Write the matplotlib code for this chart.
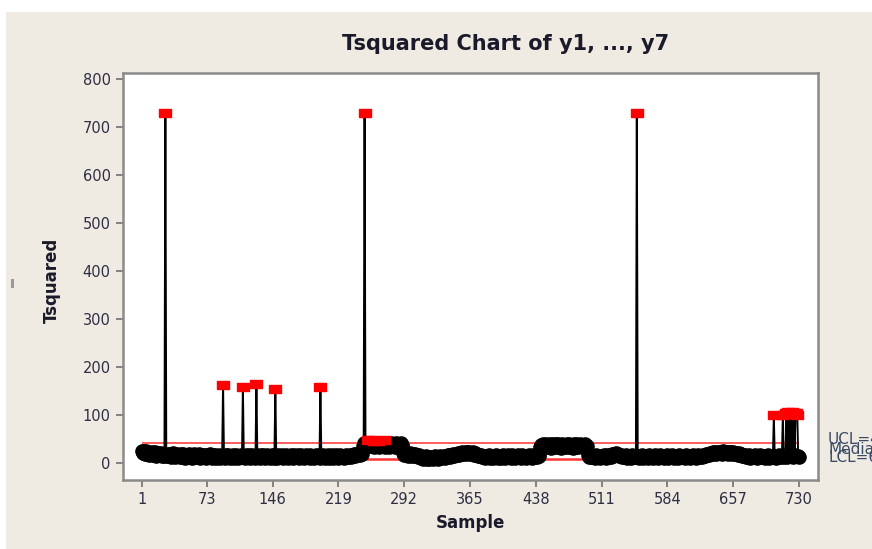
# Tsquared chart (Minitab style) of y1..y7
import numpy as np
import matplotlib.pyplot as plt
from matplotlib.patches import Rectangle

# T-squared values, one row = 10 samples (1..730)
tsq = [
    24, 20, 26, 18, 22, 25, 19, 23, 17, 21,
    19, 23, 16, 20, 18, 22, 15, 19, 21, 17,
    16, 20, 14, 18, 15, 19, 730, 17, 14, 18,
    15, 19, 13, 17, 20, 14, 18, 12, 16, 19,
    14, 17, 12, 18, 15, 13, 19, 16, 11, 17,
    15, 12, 18, 14, 16, 11, 17, 13, 19, 15,
    12, 16, 14, 18, 11, 15, 13, 17, 12, 16,
    14, 11, 17, 13, 15, 12, 18, 14, 10, 16,
    13, 17, 11, 15, 14, 12, 16, 10, 14, 13,
    163, 15, 11, 17, 13, 12, 16, 14, 10, 15,
    13, 17, 11, 14, 16, 12, 15, 10, 14, 13,
    16, 12, 158, 14, 11, 17, 13, 15, 12, 16,
    11, 14, 17, 12, 15, 10, 13, 165, 16, 12,
    14, 11, 16, 13, 17, 12, 10, 15, 13, 16,
    12, 15, 11, 14, 17, 13, 10, 16, 155, 14,
    11, 16, 13, 15, 12, 17, 14, 10, 15, 12,
    16, 13, 11, 15, 14, 17, 12, 14, 10, 16,
    13, 15, 12, 17, 11, 14, 16, 12, 15, 13,
    10, 14, 17, 12, 15, 13, 11, 16, 14, 12,
    15, 11, 14, 17, 13, 12, 16, 10, 158, 14,
    12, 16, 13, 11, 15, 14, 17, 12, 10, 15,
    13, 16, 11, 14, 12, 17, 13, 15, 11, 14,
    16, 12, 15, 13, 10, 14, 17, 12, 15, 13,
    14, 17, 13, 16, 15, 18, 14, 17, 19, 16,
    18, 21, 17, 20, 19, 36, 41, 730, 38, 34,
    40, 48, 35, 39, 42, 47, 37, 33, 46, 40,
    36, 41, 45, 34, 38, 42, 35, 40, 47, 37,
    33, 39, 36, 41, 34, 38, 42, 35, 40, 36,
    39, 34, 41, 37, 33, 40, 36, 42, 35, 38,
    20, 17, 21, 16, 19, 15, 18, 20, 14, 17,
    16, 19, 14, 18, 15, 17, 13, 16, 12, 14,
    11, 13, 9, 12, 10, 14, 8, 11, 13, 9,
    12, 10, 13, 9, 11, 14, 10, 12, 9, 13,
    11, 14, 10, 13, 12, 15, 11, 14, 13, 16,
    14, 17, 13, 16, 15, 18, 14, 17, 19, 16,
    18, 21, 17, 20, 19, 22, 18, 21, 20, 23,
    19, 22, 20, 23, 18, 21, 19, 22, 17, 20,
    18, 16, 19, 15, 17, 14, 16, 13, 15, 12,
    14, 11, 15, 13, 12, 16, 10, 14, 12, 15,
    11, 14, 13, 16, 12, 10, 15, 13, 11, 14,
    16, 12, 14, 11, 15, 13, 17, 12, 14, 10,
    13, 16, 12, 15, 11, 14, 13, 17, 12, 15,
    14, 11, 16, 13, 12, 15, 10, 14, 13, 16,
    12, 15, 13, 11, 16, 14, 12, 15, 13, 17,
    15, 18, 33, 38, 35, 40, 34, 37, 39, 36,
    33, 38, 35, 40, 32, 37, 39, 34, 36, 40,
    37, 33, 39, 35, 38, 32, 40, 36, 34, 38,
    35, 39, 33, 37, 40, 34, 38, 36, 32, 39,
    36, 40, 34, 38, 33, 37, 39, 35, 38, 34,
    37, 33, 39, 35, 36, 16, 13, 15, 12, 14,
    12, 15, 13, 11, 16, 14, 12, 15, 10, 13,
    15, 12, 14, 17, 13, 11, 16, 14, 12, 15,
    13, 16, 18, 15, 19, 17, 20, 16, 18, 15,
    17, 14, 16, 13, 15, 12, 14, 16, 11, 13,
    15, 12, 14, 11, 16, 13, 12, 15, 14, 730,
    13, 11, 15, 12, 14, 16, 10, 13, 15, 12,
    14, 11, 16, 13, 12, 15, 14, 10, 13, 16,
    12, 15, 13, 11, 14, 16, 12, 15, 13, 10,
    14, 12, 16, 13, 11, 15, 14, 12, 16, 13,
    11, 14, 13, 15, 12, 10, 16, 13, 14, 12,
    15, 13, 11, 14, 16, 12, 13, 15, 11, 14,
    13, 16, 12, 14, 15, 11, 13, 16, 14, 12,
    15, 13, 16, 14, 17, 15, 18, 16, 19, 17,
    20, 18, 21, 19, 22, 20, 23, 19, 21, 22,
    20, 23, 21, 19, 22, 24, 20, 22, 21, 23,
    19, 22, 20, 23, 21, 19, 22, 20, 18, 21,
    19, 17, 20, 18, 16, 19, 15, 17, 14, 16,
    13, 15, 12, 14, 16, 11, 13, 15, 12, 14,
    16, 13, 11, 15, 14, 12, 16, 13, 15, 12,
    14, 11, 15, 13, 12, 16, 10, 14, 13, 15,
    12, 99, 14, 11, 15, 13, 12, 16, 14, 13,
    15, 101, 12, 14, 16, 104, 13, 106, 15, 103,
    14, 107, 12, 105, 16, 103, 104, 100, 15, 13,
]
ucl = 42.06
median = 8.0
lcl = 6.0
xticks = [1, 73, 146, 219, 292, 365, 438, 511, 584, 657, 730]
yticks = [0, 100, 200, 300, 400, 500, 600, 700, 800]

sample = np.arange(1, len(tsq) + 1)
tsq = np.array(tsq, dtype=float)
out = tsq > ucl

bg = '#efebe2'
txtc = '#2e2e44'

fig = plt.figure(figsize=(8.72, 5.49), dpi=100, facecolor='white')
# beige panel behind everything
fig.patches.append(Rectangle((6 / 872, 0), 1, 1 - 12 / 549, transform=fig.transFigure,
                             facecolor=bg, edgecolor='none', zorder=-10))
fig.patches.append(Rectangle((11 / 872, 1 - 288 / 549), 3 / 872, 9 / 549,
                             transform=fig.transFigure, facecolor='#9a9a9a',
                             edgecolor='none', zorder=-5))

ax = fig.add_axes([123 / 872, 1 - 480 / 549, 695 / 872, 407 / 549])
ax.set_facecolor('white')

# control lines run only over the samples
ax.hlines([ucl, median, lcl], sample[0], sample[-1], color='#ff3030', lw=1.1, zorder=1)

# connecting line, then in-control dots and out-of-control squares
ax.plot(sample, tsq, color='black', lw=1.4, zorder=2)
ax.plot(sample[~out], tsq[~out], linestyle='none', marker='o', markersize=9.5,
        markerfacecolor='black', markeredgecolor='black', zorder=2)
rect = [(-1.5, -1), (1.5, -1), (1.5, 1), (-1.5, 1), (-1.5, -1)]
ax.plot(sample[out], tsq[out], linestyle='none', marker=rect, markersize=9,
        color='#ff0000', markeredgecolor='#ff0000', zorder=3)

ax.set_xlim(-20, 751)
ax.set_ylim(-35.4, 812.5)
ax.set_xticks(xticks)
ax.set_yticks(yticks)
ax.tick_params(direction='out', length=5, width=1.2, color='#707070',
               labelsize=10.5, labelcolor=txtc, pad=4)
for s in ax.spines.values():
    s.set_color('#8a8a8a')
    s.set_linewidth(1.8)

fig.text(506 / 872, 1 - 44 / 549, 'Tsquared Chart of y1, ..., y7', ha='center',
         va='center', fontsize=15, fontweight='bold', color='#1a1a2a')
fig.text(470 / 872, 1 - 523 / 549, 'Sample', ha='center', va='center',
         fontsize=12, fontweight='bold', color='#1a1a2a')
fig.text(52 / 872, 1 - 280 / 549, 'Tsquared', ha='center', va='center',
         rotation=90, fontsize=12, fontweight='bold', color='#1a1a2a')

# control limit labels, cut off at the right edge as in the original
fig.text(828 / 872, 1 - 440 / 549, 'UCL=42.06', va='center', fontsize=11, color='#3a4a66')
fig.text(828 / 872, 1 - 450 / 549, 'Median=8.00', va='center', fontsize=11, color='#3a4a66')
fig.text(828 / 872, 1 - 458 / 549, 'LCL=6.00', va='center', fontsize=11, color='#3a4a66')

plt.savefig('out.png', dpi=100)
